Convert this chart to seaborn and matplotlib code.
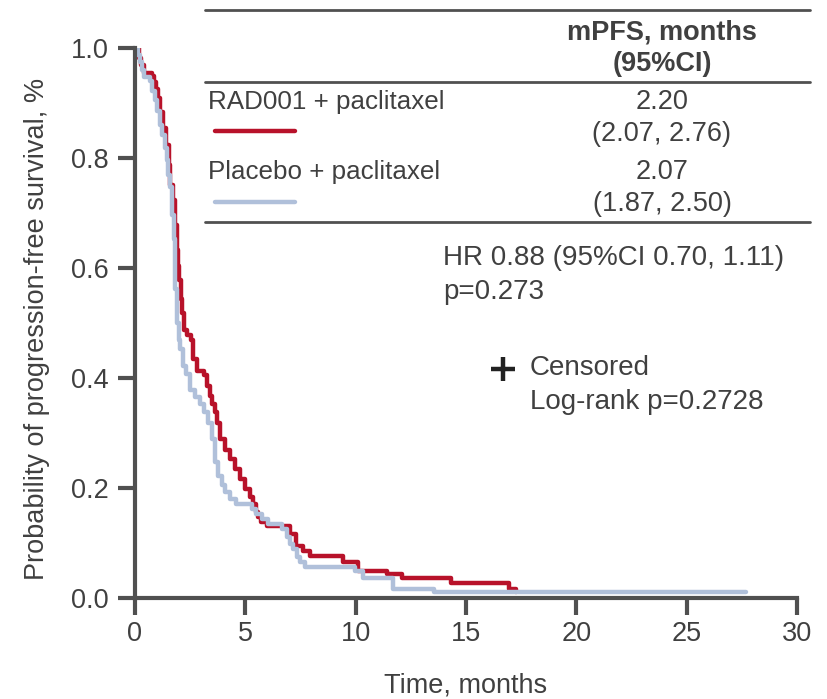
import numpy as np
import pandas as pd
import matplotlib
matplotlib.use("Agg")
import matplotlib.pyplot as plt
from matplotlib.lines import Line2D
import seaborn as sns

# ---- data ----
rad_t = [0, 0.18, 0.27, 0.41, 0.77, 0.86, 0.95, 1.04, 1.13, 1.27, 1.40, 1.54, 1.58, 1.72,
         1.81, 1.90, 1.95, 1.99, 2.08, 2.13, 2.22, 2.35, 2.53, 2.62, 2.81, 3.12, 3.26, 3.39,
         3.48, 3.62, 3.71, 3.85, 4.07, 4.30, 4.52, 4.75, 4.98, 5.20, 5.34, 5.48, 5.57, 5.70,
         5.97, 7.01, 7.29, 7.60, 7.92, 9.41, 10.09, 11.40, 12.08, 14.34, 16.97, 17.28]
rad_s = [1.0, 0.982, 0.969, 0.955, 0.949, 0.938, 0.926, 0.909, 0.884, 0.855, 0.824, 0.788,
         0.751, 0.724, 0.679, 0.633, 0.603, 0.579, 0.543, 0.519, 0.488, 0.479, 0.470, 0.434,
         0.412, 0.405, 0.385, 0.368, 0.352, 0.339, 0.319, 0.289, 0.270, 0.252, 0.234, 0.216,
         0.198, 0.183, 0.171, 0.156, 0.147, 0.138, 0.131, 0.116, 0.094, 0.085, 0.076, 0.065,
         0.049, 0.044, 0.036, 0.027, 0.016, 0.011]

pla_t = [0, 0.14, 0.23, 0.32, 0.41, 0.68, 0.77, 0.90, 1.00, 1.13, 1.22, 1.36, 1.45, 1.49,
         1.58, 1.67, 1.76, 1.81, 1.90, 1.99, 2.04, 2.17, 2.31, 2.49, 2.71, 2.94, 3.12, 3.30,
         3.48, 3.62, 3.76, 3.94, 4.07, 4.30, 4.57, 5.29, 5.48, 5.75, 6.02, 6.65, 6.88, 7.01,
         7.15, 7.33, 7.47, 7.69, 9.95, 10.32, 11.67, 13.57, 27.7]
pla_s = [1.0, 0.987, 0.975, 0.960, 0.947, 0.940, 0.922, 0.906, 0.886, 0.860, 0.842, 0.818,
         0.797, 0.770, 0.748, 0.697, 0.652, 0.561, 0.500, 0.470, 0.452, 0.421, 0.407, 0.379,
         0.365, 0.352, 0.339, 0.319, 0.289, 0.247, 0.221, 0.205, 0.192, 0.180, 0.171, 0.162,
         0.152, 0.143, 0.134, 0.125, 0.111, 0.098, 0.089, 0.074, 0.065, 0.056, 0.049, 0.036,
         0.016, 0.011, 0.011]

arms = ["RAD001 + paclitaxel", "Placebo + paclitaxel"]
medians = ["2.20", "2.07"]
cis = ["(2.07, 2.76)", "(1.87, 2.50)"]
x_ticks = [0, 5, 10, 15, 20, 25, 30]
y_ticks = [0.0, 0.2, 0.4, 0.6, 0.8, 1.0]

RED = "#B8122A"
BLUE = "#B0C0DA"
GRAY = "#505050"
TXT = "#404040"

df = pd.concat([
    pd.DataFrame({"t": rad_t, "S": rad_s, "arm": arms[0]}),
    pd.DataFrame({"t": pla_t, "S": pla_s, "arm": arms[1]}),
], ignore_index=True)

sns.set_theme(style="ticks")
plt.rcParams["font.family"] = ["Liberation Sans", "DejaVu Sans"]

W, H = 827, 699
FS = 19.5
fig = plt.figure(figsize=(W / 100, H / 100), dpi=100)
ax = fig.add_axes([135 / W, 1 - 598 / H, (797 - 135) / W, (598 - 48) / H])

sns.lineplot(data=df, x="t", y="S", hue="arm", hue_order=arms,
             palette={arms[0]: RED, arms[1]: BLUE}, drawstyle="steps-post",
             estimator=None, sort=False, linewidth=3.2, legend=False, ax=ax)

ax.set_xlim(0, 30)
ax.set_ylim(0, 1.0)
ax.set_xticks(x_ticks)
ax.set_xticklabels([str(v) for v in x_ticks])
ax.set_yticks(y_ticks)
ax.set_yticklabels([f"{v:.1f}" for v in y_ticks])
for s in ["top", "right"]:
    ax.spines[s].set_visible(False)
for s in ["left", "bottom"]:
    ax.spines[s].set_color(GRAY)
    ax.spines[s].set_linewidth(3.0)
ax.tick_params(axis="both", colors=GRAY, width=3.0, length=12, labelsize=FS,
               labelcolor=TXT)
ax.tick_params(axis="x", pad=4.5)
ax.tick_params(axis="y", pad=7)
ax.set_xlabel("Time, months", fontsize=FS, color=TXT)
ax.set_ylabel("Probability of progression-free survival, %", fontsize=FS, color=TXT)
ax.xaxis.set_label_coords(0.5, -(673 - 598) / 550)
ax.yaxis.set_label_coords(-(135 - 50) / 662, 0.49)


def fx(px):
    return px / W


def fy(py):
    return 1 - py / H


# table
for yy in [10, 82, 222]:
    fig.add_artist(Line2D([fx(205), fx(810)], [fy(yy), fy(yy)], color=GRAY, lw=2.0))
fig.text(fx(662), fy(32), "mPFS, months", ha="center", va="center",
         fontsize=FS, fontweight="bold", color=TXT)
fig.text(fx(662), fy(64), "(95%CI)", ha="center", va="center",
         fontsize=FS, fontweight="bold", color=TXT)
rows_y = [102, 172]
line_y = [131, 202]
for i, (arm, col) in enumerate(zip(arms, [RED, BLUE])):
    fig.text(fx(208), fy(rows_y[i]), arm, ha="left", va="center", fontsize=18.7, color=TXT)
    fig.add_artist(Line2D([fx(215), fx(295)], [fy(line_y[i]), fy(line_y[i])], color=col, lw=3.2))
    fig.text(fx(662), fy(rows_y[i]), medians[i], ha="center", va="center", fontsize=FS, color=TXT)
    fig.text(fx(662), fy(rows_y[i] + 32), cis[i], ha="center", va="center", fontsize=FS, color=TXT)

fig.text(fx(443), fy(258), "HR 0.88 (95%CI 0.70, 1.11)", ha="left", va="center",
         fontsize=20, color=TXT)
fig.text(fx(443), fy(292), "p=0.273", ha="left", va="center", fontsize=20, color=TXT)
fig.add_artist(Line2D([fx(503)], [fy(369)], marker="+", markersize=17, mew=3.2,
                      color="#222222", linestyle="none"))
fig.text(fx(530), fy(368), "Censored", ha="left", va="center", fontsize=20, color=TXT)
fig.text(fx(530), fy(402), "Log-rank p=0.2728", ha="left", va="center", fontsize=20, color=TXT)

fig.savefig("out.png", dpi=100)
